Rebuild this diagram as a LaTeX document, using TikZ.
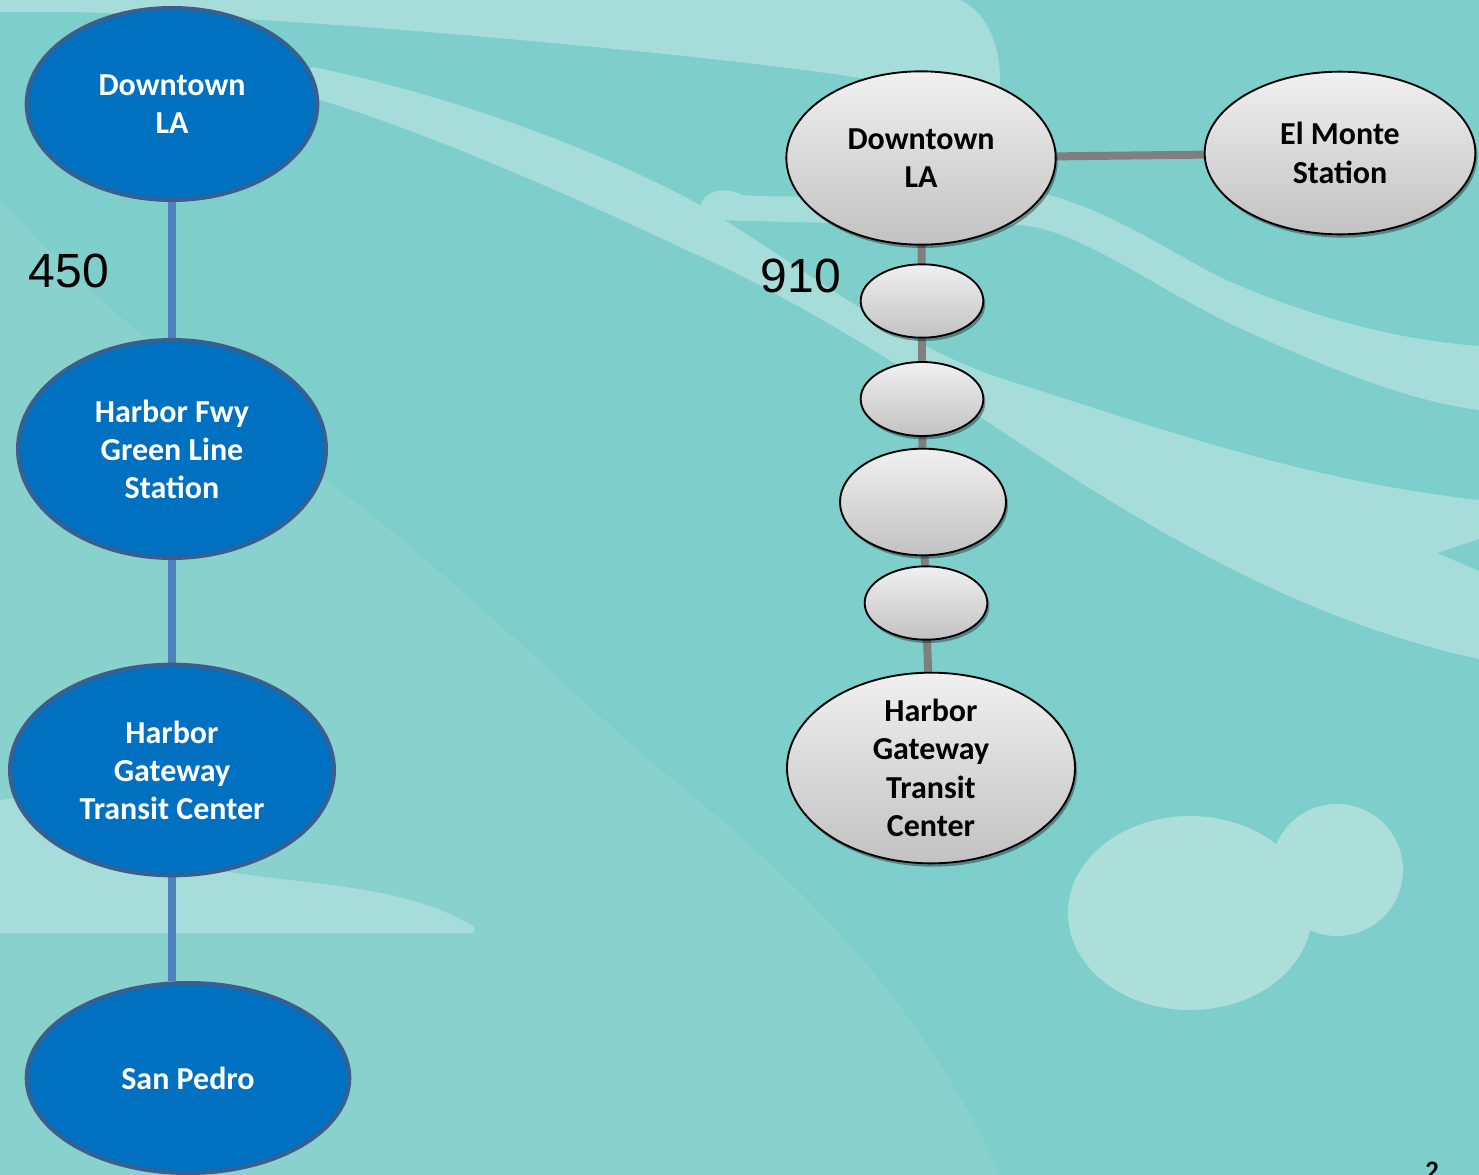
\documentclass[tikz,border=0pt]{standalone}
\usepackage{fontspec}
\setmainfont{Carlito}
\newfontfamily\arialfont{Liberation Sans}
\usetikzlibrary{shapes.geometric,shadows}
\pgfdeclarelayer{bglayer}
\pgfdeclarelayer{edgelayer}
\pgfsetlayers{bglayer,edgelayer,main}
\definecolor{bgteal}{HTML}{7ECECC}
\definecolor{bgsoft}{HTML}{88D1CD}
\definecolor{bgband}{HTML}{A6DCD9}
\definecolor{bgblob}{HTML}{ACDEDA}
\definecolor{nodeblue}{HTML}{0070C0}
\definecolor{blueedge}{HTML}{3A5F8E}
\definecolor{bluelinec}{HTML}{4F81BD}
\definecolor{graylinec}{HTML}{7F7F7F}
\definecolor{grtop}{HTML}{F0F0F0}
\definecolor{grbot}{HTML}{C2C2C2}
\begin{document}
\begin{tikzpicture}[x=0.75pt,y=-0.75pt,
  blueell/.style={ellipse, draw=blueedge, line width=3pt, fill=nodeblue, inner sep=0pt},
  grayell/.style={ellipse, draw=black, line width=1.4pt, top color=grtop, bottom color=grbot,
    inner sep=0pt, drop shadow={shadow xshift=1.5pt, shadow yshift=-2.5pt, opacity=0.35, fill=black}},
  wtext/.style={text=white, align=center, font=\fontsize{24pt}{28.5pt}\selectfont\bfseries, inner sep=0pt},
  ktext/.style={text=black, align=center, font=\fontsize{24pt}{28.8pt}\selectfont\bfseries, inner sep=0pt},
  numtext/.style={font=\fontsize{36pt}{40pt}\selectfont\arialfont, text=black, inner sep=0pt, anchor=base},
  blueline/.style={draw=bluelinec, line width=6pt},
  grayline/.style={draw=graylinec, line width=6pt},
  bandfill/.style={fill=bgband},
]
\useasboundingbox (0,0) rectangle (1479,1175);
\clip (0,0) rectangle (1479,1175);

% ---------- background ----------
\begin{pgfonlayer}{bglayer}
\begin{scope}
\clip (0,0) rectangle (1479,1175);
\fill[bgteal] (0,0) rectangle (1479,1175);
% soft lighter lower-left region
\fill[bgsoft] (0,200) .. controls (120,330) and (250,420) .. (321,477)
  .. controls (400,530) and (560,680) .. (637,750)
  .. controls (720,820) and (900,950) .. (1000,1175) -- (0,1175) -- cycle;
% light strip lower left
\fill[bandfill] (0,800) .. controls (60,790) and (150,850) .. (204,867)
  .. controls (280,885) and (400,880) .. (474,927) -- (474,933) -- (0,933) -- cycle;
% top swoosh
\fill[bandfill] (0,0) -- (960,0) .. controls (995,15) and (1008,70) .. (995,112)
  .. controls (960,85) and (760,62) .. (520,40)
  .. controls (300,20) and (120,10) .. (0,12) -- cycle;
% long diagonal swoosh
\fill[bandfill] (313,67) .. controls (450,95) and (600,150) .. (700,205)
  .. controls (800,265) and (900,345) .. (1000,378)
  .. controls (1150,425) and (1300,480) .. (1479,500)
  -- (1479,539) -- (1437,553) -- (1479,571) -- (1479,659)
  .. controls (1300,620) and (1150,530) .. (1000,430)
  .. controls (900,365) and (780,290) .. (686,250)
  .. controls (560,190) and (420,130) .. (320,100)
  .. controls (305,95) and (300,70) .. (313,67) -- cycle;
% branch swoosh
\fill[bandfill] (700,208) .. controls (703,190) and (725,186) .. (742,195)
  .. controls (800,200) and (950,190) .. (1020,189)
  .. controls (1100,200) and (1180,260) .. (1233,283)
  .. controls (1320,320) and (1400,340) .. (1479,346) -- (1479,410)
  .. controls (1400,400) and (1310,360) .. (1233,325)
  .. controls (1150,285) and (1080,230) .. (1020,225)
  .. controls (900,225) and (780,222) .. (720,220) -- cycle;
% blob bottom right
\fill[bgblob] (1190,913) ellipse [x radius=91.5pt, y radius=72.75pt];
\fill[bgblob] (1337,870) circle [radius=49.5pt];
\end{scope}
\end{pgfonlayer}

% ---------- route 450 ----------
\node[blueell, minimum width=218pt, minimum height=144pt,
  label={[wtext]center:Downtown\\LA}] (dtl) at (172,104) {};
\node[blueell, minimum width=231pt, minimum height=163.5pt,
  label={[wtext]center:Harbor Fwy\\Green Line\\Station}] (hf) at (172,449) {};
\node[blueell, minimum width=243pt, minimum height=158pt,
  label={[wtext]center:Harbor\\Gateway\\Transit Center}] (hgl) at (172,770) {};
\node[blueell, minimum width=242pt, minimum height=142.5pt,
  label={[wtext]center:San Pedro}] (sp) at (188,1078) {};
\node[numtext] (n450) at (69,287) {450};

% ---------- route 910 ----------
\node[grayell, minimum width=202pt, minimum height=130pt,
  label={[ktext]center:Downtown\\LA}] (dtr) at (921,158) {};
\node[grayell, minimum width=203pt, minimum height=122pt,
  label={[ktext]center:El Monte\\Station}] (em) at (1340,153) {};
\node[grayell, minimum width=92pt, minimum height=55pt] (s1) at (922,301) {};
\node[grayell, minimum width=92pt, minimum height=55.5pt] (s2) at (922,399) {};
\node[grayell, minimum width=124.5pt, minimum height=80pt] (s3) at (923,502) {};
\node[grayell, minimum width=92pt, minimum height=55pt] (s4) at (926,603) {};
\node[grayell, minimum width=216pt, minimum height=143pt,
  label={[ktext]center:Harbor\\Gateway\\Transit\\Center}] (hgr) at (931,768) {};
\node[numtext] (n910) at (801,292) {910};

% page number (cut by the frame, as in the reference)
\node[anchor=north, inner sep=0pt, font=\fontsize{20pt}{24pt}\selectfont\bfseries] (pg) at (1432,1162) {2};

% ---------- connectors ----------
\begin{pgfonlayer}{edgelayer}
\draw[blueline] (dtl) -- (hf);
\draw[blueline] (hf) -- (hgl);
\draw[blueline] (hgl.south) -- (hgl.south |- sp.north);
\draw[grayline] (dtr) -- (em);
\draw[grayline] (dtr) -- (s1);
\draw[grayline] (s1) -- (s2);
\draw[grayline] (s2) -- (s3);
\draw[grayline] (s3) -- (s4);
\draw[grayline] (s4) -- (hgr);
\end{pgfonlayer}
\end{tikzpicture}
\end{document}
